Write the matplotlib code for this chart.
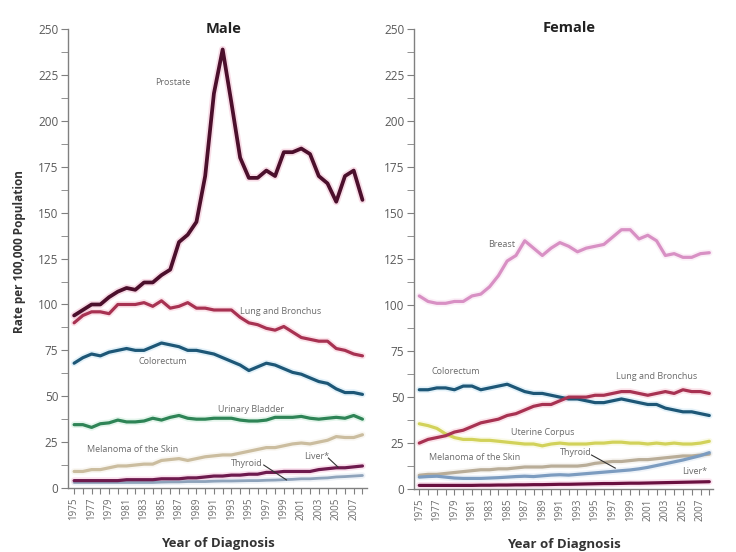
import matplotlib
matplotlib.use("Agg")
import matplotlib.pyplot as plt
import numpy as np

plt.rcParams['font.family'] = ['Open Sans', 'DejaVu Sans']

years = list(range(1975, 2009))

# Male series
male_prostate = [94, 97, 100, 100, 104, 107, 109, 108, 112, 112, 116, 119, 134, 138, 145, 170,
                 215, 239, 210, 180, 169, 169, 173, 170, 183, 183, 185, 182, 170, 166, 156, 170, 173, 157]
male_lung = [90, 94, 96, 96, 95, 100, 100, 100, 101, 99, 102, 98, 99, 101, 98, 98,
             97, 97, 97, 93, 90, 89, 87, 86, 88, 85, 82, 81, 80, 80, 76, 75, 73, 72]
male_colorectum = [68, 71, 73, 72, 74, 75, 76, 75, 75, 77, 79, 78, 77, 75, 75, 74,
                   73, 71, 69, 67, 64, 66, 68, 67, 65, 63, 62, 60, 58, 57, 54, 52, 52, 51]
male_bladder = [34.5, 34.5, 33, 35, 35.5, 37, 36, 36, 36.5, 38, 37, 38.5, 39.5, 38, 37.5, 37.5,
                38, 38, 38, 37, 36.5, 36.5, 37, 38.5, 38.5, 38.5, 39, 38, 37.5, 38, 38.5, 38, 39.5, 37.5]
male_melanoma = [9, 9, 10, 10, 11, 12, 12, 12.5, 13, 13, 15, 15.5, 16, 15, 16, 17,
                 17.5, 18, 18, 19, 20, 21, 22, 22, 23, 24, 24.5, 24, 25, 26, 28, 27.5, 27.5, 29]
male_liver = [4, 4, 4, 4, 4, 4, 4.5, 4.5, 4.5, 4.5, 5, 5, 5, 5.5, 5.5, 6,
              6.5, 6.5, 7, 7, 7.5, 7.5, 8.5, 8.5, 9, 9, 9, 9, 10, 10.5, 11, 11, 11.5, 12]
male_thyroid = [3, 3, 3, 3, 3, 3, 3, 3, 3, 3, 3.2, 3.3, 3.3, 3.5, 3.5, 3.5,
                3.7, 3.8, 3.8, 3.9, 4, 4, 4.2, 4.3, 4.5, 4.7, 5, 5, 5.3, 5.5, 6, 6.2, 6.5, 6.8]

# Female series
female_breast = [105, 102, 101, 101, 102, 102, 105, 106, 110, 116, 124, 127, 135, 131, 127, 131,
                 134, 132, 129, 131, 132, 133, 137, 141, 141, 136, 138, 135, 127, 128, 126, 126, 128, 128.5]
female_colorectum = [54, 54, 55, 55, 54, 56, 56, 54, 55, 56, 57, 55, 53, 52, 52, 51,
                     50, 49, 49, 48, 47, 47, 48, 49, 48, 47, 46, 46, 44, 43, 42, 42, 41, 40]
female_lung = [25, 27, 28, 29, 31, 32, 34, 36, 37, 38, 40, 41, 43, 45, 46, 46,
               48, 50, 50, 50, 51, 51, 52, 53, 53, 52, 51, 52, 53, 52, 54, 53, 53, 52]
female_uterine = [35.5, 34.5, 33, 30, 28, 27, 27, 26.5, 26.5, 26, 25.5, 25, 24.5, 24.5, 23.5, 24.5,
                  25, 24.5, 24.5, 24.5, 25, 25, 25.5, 25.5, 25, 25, 24.5, 25, 24.5, 25, 24.5, 24.5, 25, 26]
female_melanoma = [7.5, 8, 8, 8.5, 9, 9.5, 10, 10.5, 10.5, 11, 11, 11.5, 12, 12, 12, 12.5,
                   12.5, 12.5, 12.5, 13, 14, 14.5, 15, 15, 15.5, 16, 16, 16.5, 17, 17.5, 18, 18, 18.5, 19]
female_thyroid = [6.5, 6.8, 7, 6.5, 6, 5.8, 5.8, 5.8, 6, 6.2, 6.5, 6.8, 7, 6.8, 7.2, 7.6,
                  7.8, 7.6, 8, 8.4, 8.8, 9.2, 9.6, 10, 10.4, 11, 11.8, 12.8, 13.8, 14.8, 15.8, 17, 18.2, 19.8]
female_liver = [2, 2, 2, 2, 2, 2, 2, 2.1, 2.1, 2.2, 2.2, 2.3, 2.3, 2.4, 2.4, 2.5,
                2.6, 2.6, 2.7, 2.8, 2.9, 3, 3, 3.1, 3.2, 3.2, 3.3, 3.4, 3.5, 3.6, 3.7, 3.8, 3.9, 4]

year_labels = [str(y) if (y - 1975) % 2 == 0 else "" for y in years]
y_major = list(range(0, 251, 25))

fig = plt.figure(figsize=(7.36, 5.52), dpi=100)
ax_m = fig.add_axes([0.0924, 0.116, 0.406, 0.831])
ax_f = fig.add_axes([0.5625, 0.114, 0.406, 0.833])

GRAY = "#808080"
TXT = "#6a6a6a"


def draw(ax, y, color, glow, lw=2.3):
    ax.plot(years, y, color=glow, lw=lw + 2.5, alpha=0.3, solid_capstyle="round", zorder=2)
    ax.plot(years, y, color=color, lw=lw, solid_capstyle="round", zorder=3)


def style(ax, xlim):
    ax.set_ylim(0, 250)
    ax.set_xlim(*xlim)
    ax.set_yticks(y_major)
    ax.set_yticks(np.arange(12.5, 250, 25), minor=True)
    ax.set_xticks(years)
    ax.set_xticklabels(year_labels, rotation=90)
    for s in ["top", "right"]:
        ax.spines[s].set_visible(False)
    for s in ["left", "bottom"]:
        ax.spines[s].set_color(GRAY)
        ax.spines[s].set_linewidth(1.0)
    ax.tick_params(axis="y", which="both", length=5, color=GRAY, labelcolor="#5a5a5a", labelsize=8.5, pad=2)
    ax.tick_params(axis="x", length=4, color=GRAY, labelcolor="#6a6a6a", labelsize=7, pad=3)
    ax.set_xlabel("Year of Diagnosis", fontsize=9.5, fontweight="bold", color="#333333", labelpad=12)


# Male panel
draw(ax_m, male_thyroid, "#8ea3bb", "#c8d6e6", lw=2.0)
draw(ax_m, male_melanoma, "#cbbd9f", "#eee6d6")
draw(ax_m, male_liver, "#6e1a4e", "#f0a0c8")
draw(ax_m, male_bladder, "#2e8456", "#a8e0c0")
draw(ax_m, male_colorectum, "#1d5777", "#a8d4ee")
draw(ax_m, male_lung, "#a83252", "#f4a6bc")
draw(ax_m, male_prostate, "#4c0f2c", "#e890b0", lw=2.7)
style(ax_m, (1974.3, 2008.5))
ax_m.set_ylabel("Rate per 100,000 Population", fontsize=8.5, fontweight="bold", color="#333333", labelpad=5)
ax_m.yaxis.set_label_coords(-0.14, 0.515)
ax_m.text(0.52, 1.0, "Male", transform=ax_m.transAxes, ha="center", va="center",
          fontsize=10.5, fontweight="bold", color="#222222")

fs = 6.5
ax_m.text(1986.3, 221, "Prostate", fontsize=fs, color=TXT, ha="center", va="center")
ax_m.text(1998.6, 96.4, "Lung and Bronchus", fontsize=fs, color=TXT, ha="center", va="center")
ax_m.text(1985.1, 69, "Colorectum", fontsize=fs, color=TXT, ha="center", va="center")
ax_m.text(1995.2, 42.5, "Urinary Bladder", fontsize=fs, color=TXT, ha="center", va="center")
ax_m.text(1981.7, 21.2, "Melanoma of the Skin", fontsize=fs, color=TXT, ha="center", va="center")
ax_m.text(1994.8, 13.6, "Thyroid", fontsize=fs, color=TXT, ha="center", va="center")
ax_m.plot([1996.7, 1999.3], [12.5, 4.4], color="#333333", lw=0.8, zorder=4)
ax_m.text(2002.8, 17.4, "Liver*", fontsize=fs, color=TXT, ha="center", va="center")
ax_m.plot([2004.1, 2005.2], [16.3, 11.4], color="#333333", lw=0.8, zorder=4)

# Female panel
draw(ax_f, female_liver, "#6a1040", "#f0a0c8")
draw(ax_f, female_melanoma, "#b9ad98", "#e6e0d4")
draw(ax_f, female_thyroid, "#7c9cc0", "#c8daee")
draw(ax_f, female_uterine, "#d2d25a", "#f0f0b0")
draw(ax_f, female_colorectum, "#1d5777", "#a8d4ee")
draw(ax_f, female_lung, "#a83252", "#f4a6bc")
draw(ax_f, female_breast, "#d890c4", "#f4cce6")
style(ax_f, (1974.4, 2008.4))
ax_f.text(0.52, 1.002, "Female", transform=ax_f.transAxes, ha="center", va="center",
          fontsize=10.5, fontweight="bold", color="#222222")

ax_f.text(1984.4, 133, "Breast", fontsize=fs, color=TXT, ha="center", va="center")
ax_f.text(1979.1, 63.7, "Colorectum", fontsize=fs, color=TXT, ha="center", va="center")
ax_f.text(2002.0, 61, "Lung and Bronchus", fontsize=fs, color=TXT, ha="center", va="center")
ax_f.text(1989.0, 31, "Uterine Corpus", fontsize=fs, color=TXT, ha="center", va="center")
ax_f.text(1981.3, 17, "Melanoma of the Skin", fontsize=fs, color=TXT, ha="center", va="center")
ax_f.text(1992.8, 20, "Thyroid", fontsize=fs, color=TXT, ha="center", va="center")
ax_f.plot([1994.6, 1997.3], [18.5, 11.4], color="#333333", lw=0.8, zorder=4)
ax_f.text(2006.3, 9.3, "Liver*", fontsize=fs, color=TXT, ha="center", va="center")

fig.savefig("out.png", dpi=100, facecolor="white")
